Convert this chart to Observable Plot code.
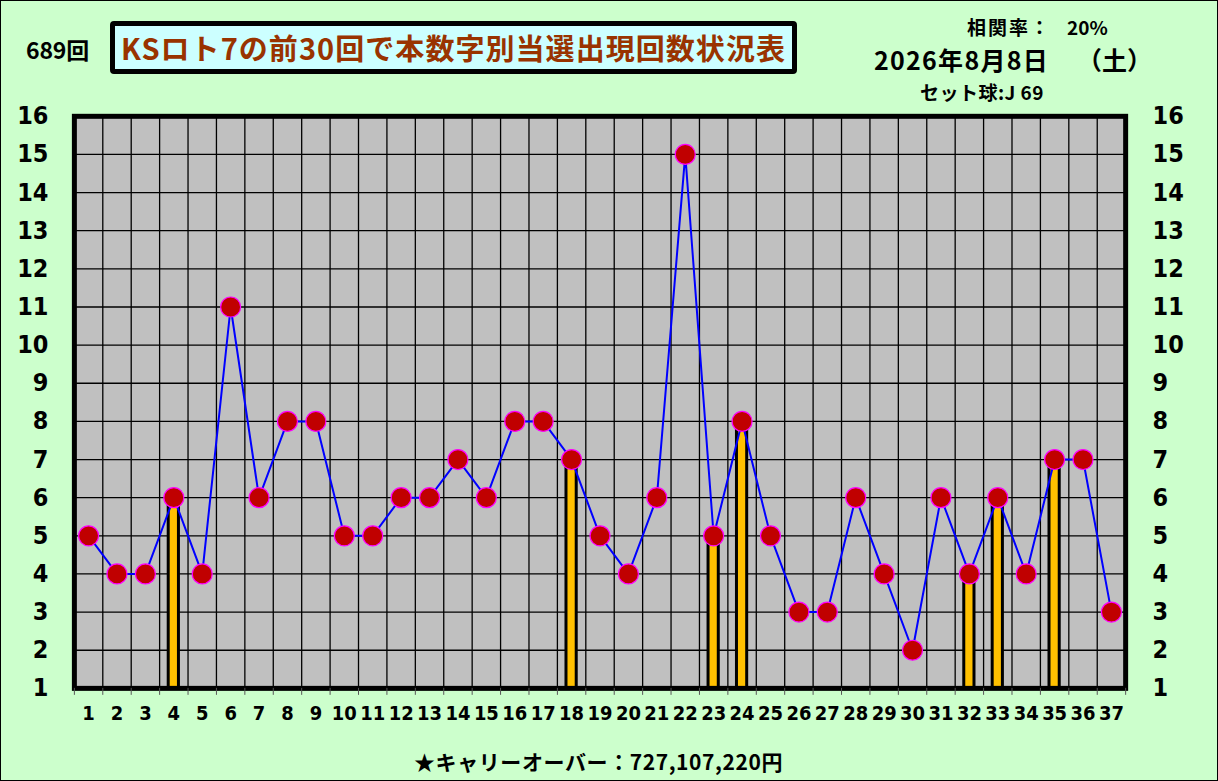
<!DOCTYPE html>
<html>
<head>
<meta charset="utf-8">
<script src="https://cdn.jsdelivr.net/npm/d3@7"></script>
<script src="https://cdn.jsdelivr.net/npm/@observablehq/plot@0.6"></script>
<style>
  html, body { margin: 0; padding: 0; background: #CCFFCC; }
  #wrap { position: relative; width: 1218px; height: 781px; box-sizing: border-box; border: 1px solid #000; background: #CCFFCC; overflow: hidden;
    font-family: "Noto Sans CJK JP", "Noto Sans", sans-serif; }
  .t { position: absolute; white-space: nowrap; color: #000; font-weight: bold; line-height: 1; }
  #titlebox { position: absolute; left: 109px; top: 20px; width: 687px; height: 53px; box-sizing: border-box;
    border: 5px solid #000; border-radius: 4px; background: #CCFFFF; }
  #title { position: absolute; color: #993300; font-size: 29px; font-weight: bold; white-space: nowrap; line-height: 1; left: 6px; top: 7px; }
  #chart { position: absolute; left: 0; top: 0; }
</style>
</head>
<body>
<div id="wrap">
  <div class="t fit" data-w="63" style="left:25px; top:37px; font-size:23px;">689回</div>
  <div id="titlebox"><div id="title" class="fit" data-w="665">KSロト7の前30回で本数字別当選出現回数状況表</div></div>
  <div class="t fit" data-w="84" style="left:966px; top:16px; font-size:19px;">相関率：</div>
  <div class="t" style="left:1066px; top:16px; font-size:19px;">20%</div>
  <div class="t fit" data-w="175" style="left:873px; top:46px; font-size:25px;">2026年8月8日</div>
  <div class="t" style="left:1076px; top:46px; font-size:25px;">（土）</div>
  <div class="t fit" data-w="124" style="left:919px; top:81px; font-size:19px;">セット球:J 69</div>
  <div class="t fit" data-w="369" style="left:413px; top:750px; font-size:21px;">★キャリーオーバー：727,107,220円</div>
  <div id="chart"></div>
</div>
<script>
// Lottery numbers (categories)
const numbers = [1,2,3,4,5,6,7,8,9,10,11,12,13,14,15,16,17,18,19,20,21,22,23,24,25,26,27,28,29,30,31,32,33,34,35,36,37];
// Appearance counts over the last 30 draws
const counts  = [5,4,4,6,4,11,6,8,8,5,5,6,6,7,6,8,8,7,5,4,6,15,5,8,5,3,3,6,4,2,6,4,6,4,7,7,3];
// Numbers drawn in this round (highlighted bars)
const hits = [4,18,23,24,32,33,35];
// Y tick labels
const yTicks = [1,2,3,4,5,6,7,8,9,10,11,12,13,14,15,16];

const table = numbers.map((n, i) => ({n, c: counts[i]}));
const bars = hits.map(n => ({n, c: counts[n - 1]}));
const bounds = numbers.map(n => n - 0.5).concat([numbers[numbers.length - 1] + 0.5]);

const font = '"Liberation Sans Narrow", "DejaVu Sans Condensed", "Liberation Sans", sans-serif';

const chart = Plot.plot({
  width: 1218,
  height: 740,
  marginLeft: 73,
  marginRight: 92,
  marginTop: 115,
  marginBottom: 52,
  style: { background: "transparent", fontFamily: font, overflow: "visible" },
  x: { domain: [0.5, 37.5], axis: null },
  y: { domain: [1, 16], axis: null },
  marks: [
    Plot.frame({ fill: "#C0C0C0" }),
    Plot.ruleY(yTicks, { stroke: "#000", strokeWidth: 1.3 }),
    Plot.ruleX(bounds, { stroke: "#000", strokeWidth: 1.3 }),
    Plot.rect(bars, { x1: d => d.n - 0.18, x2: d => d.n + 0.18, y1: 1, y2: "c", fill: "#FFC000", stroke: "#000", strokeWidth: 3 }),
    Plot.line(table, { x: "n", y: "c", stroke: "#0000FF", strokeWidth: 2 }),
    Plot.dot(table, { x: "n", y: "c", r: 10, fill: "#C00000", stroke: "#FF00FF", strokeWidth: 1.2 }),
    Plot.frame({ stroke: "#000", strokeWidth: 5 }),
    Plot.axisY(yTicks, { anchor: "left", label: null, tickSize: 0, tickPadding: 26, fontSize: 25, fontWeight: "bold", fill: "#000" }),
    Plot.axisY(yTicks, { anchor: "right", label: null, tickSize: 0, tickPadding: 27, fontSize: 25, fontWeight: "bold", fill: "#000" }),
    Plot.axisX(bounds, { anchor: "bottom", label: null, tickSize: 7, tickPadding: 0, tickFormat: () => "", stroke: "#555" }),
    Plot.axisX(numbers, { anchor: "bottom", label: null, tickSize: 0, tickPadding: 17, fontSize: 20, fontWeight: "bold", fill: "#000" })
  ]
});
document.getElementById("chart").appendChild(chart);

// Stretch texts to the widths they take in the reference
document.querySelectorAll(".fit").forEach(el => {
  const target = +el.dataset.w;
  const n = [...el.textContent].length;
  const w = el.getBoundingClientRect().width;
  el.style.letterSpacing = ((target - w) / n) + "px";
});
</script>
</body>
</html>
